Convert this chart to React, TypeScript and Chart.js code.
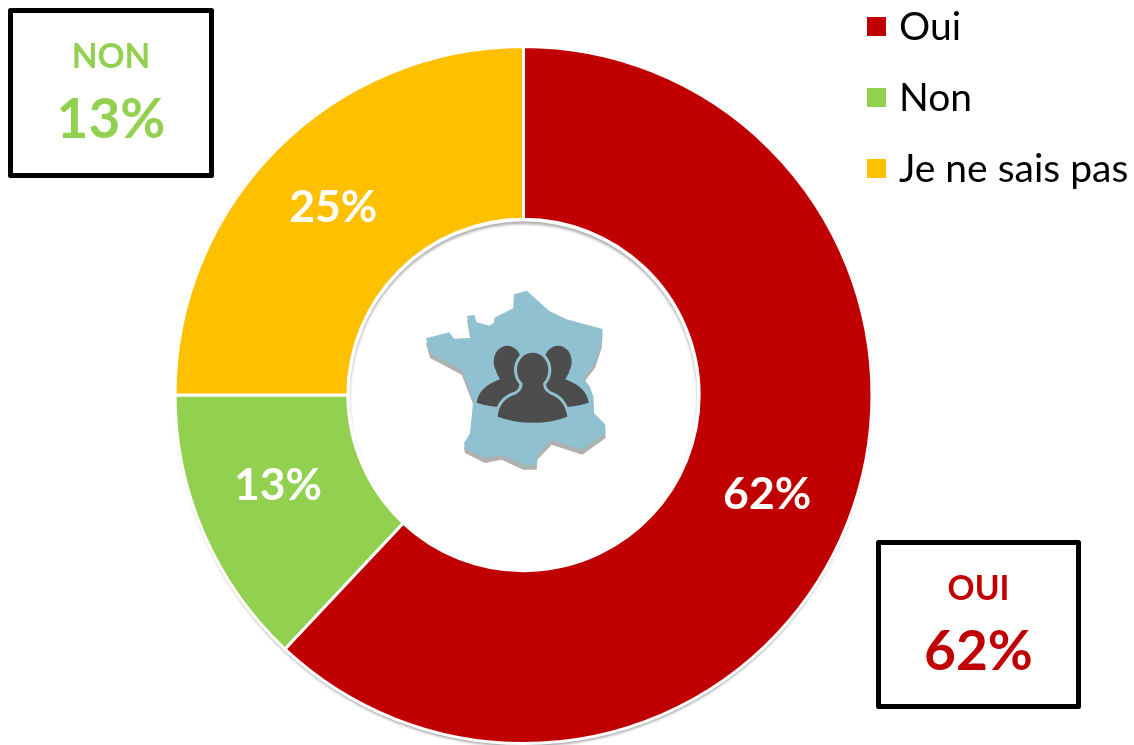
import React, { useEffect, useRef } from "react";
import { Chart, registerables } from "chart.js";

Chart.register(...registerables);

const categories = ["Oui", "Non", "Je ne sais pas"];
const shares = [62, 13, 25];
const sliceColors = ["#C00000", "#92D050", "#FFC000"];
const FONT = "Lato, 'Open Sans', sans-serif";

const LABEL_NUDGE = [[0, 3], [-5, -13], [-5, -2]];
const LEGEND_ROWS = [27, 98, 169];

const FRANCE =
  "M48 175 L118 157 L132 176 L183 174 L171 108 L193 105 L200 127 L238 137 L252 128 L253 113 L310 85 L312 43 L350 32 L418 93 L470 118 L578 147 L575 190 L555 250 L520 295 L540 320 L550 350 L552 400 L585 432 L587 460 L517 510 L425 480 L382 525 L380 555 L340 555 L275 525 L225 535 L165 505 L162 490 L180 460 L190 360 L155 270 L60 220 Z";
const PERSON_LEFT =
  "M258 275 L270 298 Q205 322 200 368 Q240 382 300 382 L345 300 L330 270 Z";
const PERSON_RIGHT =
  "M478 275 L466 298 Q531 322 536 368 Q496 382 436 382 L391 300 L406 270 Z";
const PERSON_FRONT =
  "M335 298 Q345 328 318 343 Q268 358 263 410 Q310 428 368 428 Q430 428 472 410 Q464 358 420 343 Q392 328 402 298 Z";

function drawIcon(ctx: CanvasRenderingContext2D) {
  ctx.save();
  ctx.translate(410, 280);
  ctx.scale(1 / 3, 1 / 3);
  const france = new Path2D(FRANCE);
  ctx.save();
  ctx.translate(0, 14);
  ctx.fillStyle = "#B0B0B0";
  ctx.fill(france);
  ctx.restore();
  ctx.fillStyle = "#8FC1D0";
  ctx.fill(france);

  ctx.fillStyle = "#4D4D4D";
  ctx.fill(new Path2D(PERSON_LEFT));
  ctx.fill(new Path2D(PERSON_RIGHT));
  ctx.beginPath();
  ctx.ellipse(292, 245, 41, 48, 0, 0, Math.PI * 2);
  ctx.closePath();
  ctx.fill();
  ctx.beginPath();
  ctx.ellipse(444, 245, 41, 48, 0, 0, Math.PI * 2);
  ctx.closePath();
  ctx.fill();

  const front = new Path2D(PERSON_FRONT);
  const head = new Path2D();
  head.ellipse(368, 270, 47, 52, 0, 0, Math.PI * 2);
  ctx.strokeStyle = "#8FC1D0";
  ctx.lineWidth = 18;
  ctx.stroke(front);
  ctx.stroke(head);
  ctx.fill(front);
  ctx.fill(head);
  ctx.restore();
}

function drawBox(
  ctx: CanvasRenderingContext2D,
  x: number,
  y: number,
  w: number,
  h: number,
  title: string,
  value: string,
  color: string
) {
  ctx.save();
  ctx.strokeStyle = "#000";
  ctx.lineWidth = 5;
  ctx.lineJoin = "round";
  ctx.strokeRect(x, y, w, h);
  ctx.fillStyle = color;
  ctx.textAlign = "center";
  ctx.textBaseline = "middle";
  ctx.font = `bold 33.5px ${FONT}`;
  ctx.fillText(title, x + w / 2, y + 47);
  ctx.font = `bold 55px ${FONT}`;
  ctx.fillText(value, x + w / 2, y + 110);
  ctx.restore();
}

const overlay = {
  id: "overlay",
  beforeDatasetsDraw(chart: any) {
    const ctx: CanvasRenderingContext2D = chart.ctx;
    const arc = chart.getDatasetMeta(0).data[0];
    ctx.save();
    ctx.shadowColor = "rgba(0,0,0,0.4)";
    ctx.shadowBlur = 3;
    ctx.shadowOffsetY = 4;
    ctx.fillStyle = "#fff";
    ctx.beginPath();
    ctx.arc(arc.x, arc.y, arc.outerRadius - 1, 0, Math.PI * 2);
    ctx.fill();
    ctx.restore();
  },
  afterDatasetsDraw(chart: any) {
    const ctx: CanvasRenderingContext2D = chart.ctx;
    const arcs = chart.getDatasetMeta(0).data;

    const first = arcs[0];
    const holeR = first.innerRadius - 2;
    ctx.save();
    ctx.beginPath();
    ctx.arc(first.x, first.y, holeR, 0, Math.PI * 2);
    ctx.clip();
    ctx.shadowColor = "rgba(0,0,0,0.4)";
    ctx.shadowBlur = 3;
    ctx.shadowOffsetY = 3;
    ctx.strokeStyle = "#fff";
    ctx.lineWidth = 3;
    ctx.beginPath();
    ctx.arc(first.x, first.y, holeR + 2, 0, Math.PI * 2);
    ctx.stroke();
    ctx.restore();

    ctx.save();
    ctx.fillStyle = "#fff";
    ctx.textAlign = "center";
    ctx.textBaseline = "middle";
    ctx.font = `bold 44.5px ${FONT}`;
    arcs.forEach((arc: any, i: number) => {
      const p = arc.tooltipPosition();
      ctx.fillText(`${shares[i]}%`, p.x + LABEL_NUDGE[i][0], p.y + LABEL_NUDGE[i][1]);
    });

    ctx.textAlign = "left";
    ctx.font = `39px ${FONT}`;
    categories.forEach((name, i) => {
      ctx.fillStyle = sliceColors[i];
      ctx.fillRect(867, LEGEND_ROWS[i] - 10, 19, 19);
      ctx.fillStyle = "#000";
      ctx.fillText(name, 899, LEGEND_ROWS[i]);
    });
    ctx.restore();

    drawIcon(ctx);
    drawBox(ctx, 10.5, 10.5, 201, 165, "NON", `${shares[1]}%`, sliceColors[1]);
    drawBox(ctx, 878.5, 542.5, 200, 164, "OUI", `${shares[0]}%`, sliceColors[0]);
  },
};

export default function App() {
  const ref = useRef<HTMLCanvasElement>(null);
  useEffect(() => {
    document.body.style.margin = "0";
    const chart = new Chart(ref.current!, {
      type: "doughnut",
      data: {
        labels: categories,
        datasets: [
          {
            data: shares,
            backgroundColor: sliceColors,
            borderColor: "#fff",
            borderWidth: 3,
          },
        ],
      },
      options: {
        responsive: false,
        animation: false,
        cutout: "50.4%",
        layout: { padding: { left: 173, right: 260, top: 45, bottom: 0 } },
        plugins: { legend: { display: false }, tooltip: { enabled: false } },
      },
      plugins: [overlay],
    });
    return () => chart.destroy();
  }, []);
  return <canvas ref={ref} width={1134} height={745} style={{ display: "block" }} />;
}
